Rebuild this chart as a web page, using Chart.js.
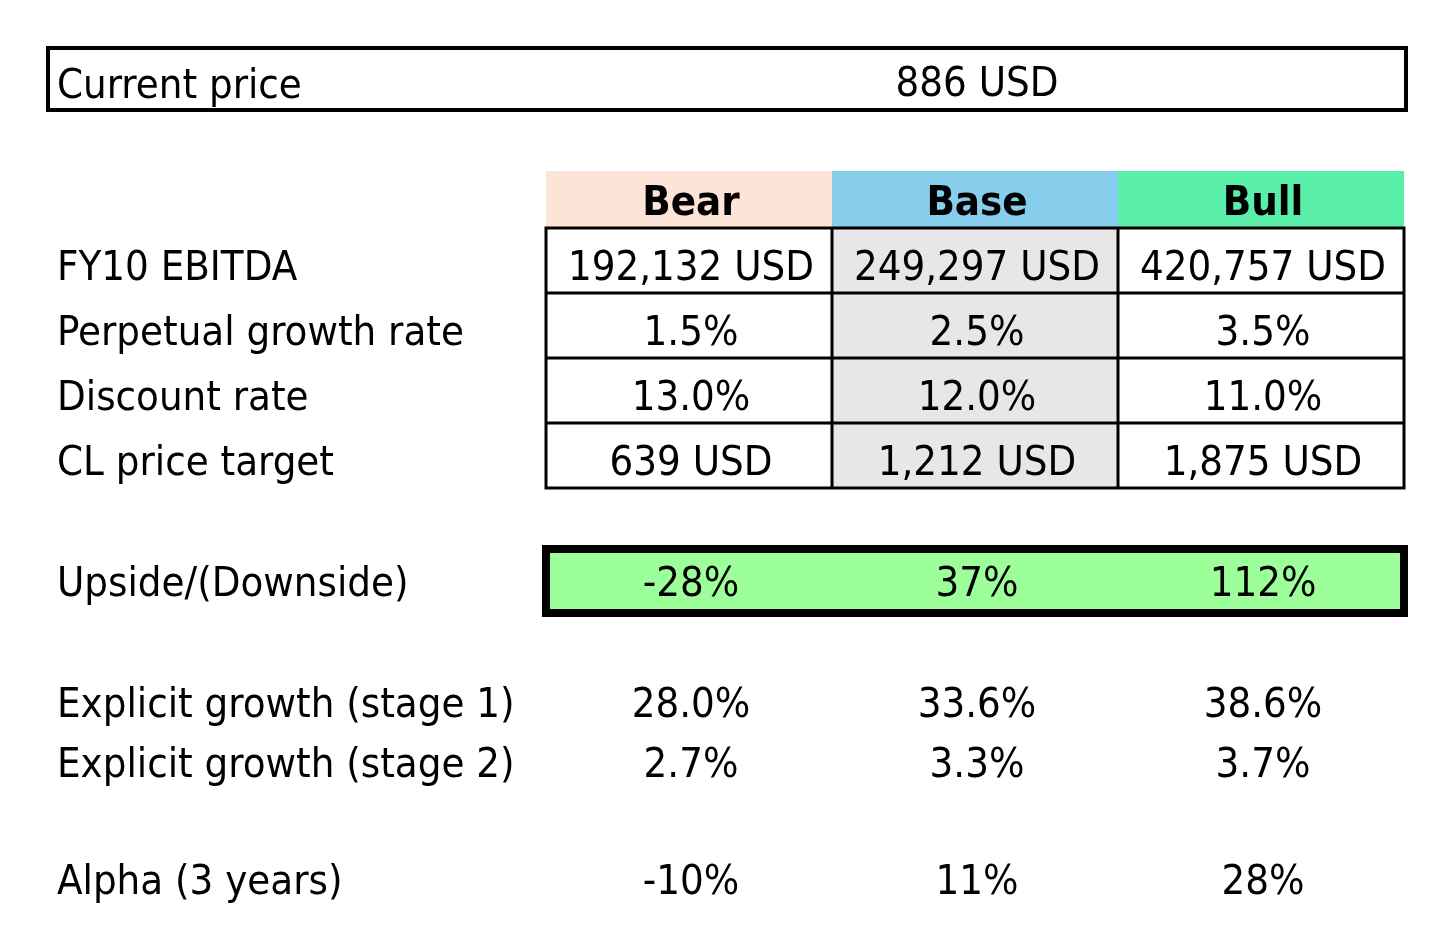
<!DOCTYPE html>
<html>
<head>
<meta charset="utf-8">
<script src="https://cdn.jsdelivr.net/npm/chart.js@4.4.1/dist/chart.umd.min.js"></script>
<style>
  html, body { margin: 0; padding: 0; background: #fff; }
  #wrap { width: 1456px; height: 952px; position: relative; }
</style>
</head>
<body>
<div id="wrap"><canvas id="valuation"></canvas></div>
<script>
// --- data ---
const scenarios = ['Bear', 'Base', 'Bull'];
const currentPrice = 886;
const ebitda = [192132, 249297, 420757];
const perpetualGrowth = [1.5, 2.5, 3.5];
const discountRate = [13.0, 12.0, 11.0];
const priceTarget = [639, 1212, 1875];
const upside = [-28, 37, 112];
const stage1Growth = [28.0, 33.6, 38.6];
const stage2Growth = [2.7, 3.3, 3.7];
const alpha3y = [-10, 11, 28];

const usd = v => v.toLocaleString('en-US') + ' USD';
const pct1 = v => v.toFixed(1) + '%';
const pct0 = v => v.toFixed(0) + '%';

// --- layout (row tracks, top to bottom, in y-axis units) ---
const tracks = [46, 66, 59, 57, 65, 65, 65, 65, 57, 72, 56, 60, 59, 58, 60, 42];
const cum = [0];
tracks.forEach(t => cum.push(cum[cum.length - 1] + t));
const mid = i => (cum[i] + cum[i + 1]) / 2;

const rows = [
  { label: 'FY10 EBITDA',              values: ebitda,          fmt: usd,  track: 4,  kind: 'grid' },
  { label: 'Perpetual growth rate',    values: perpetualGrowth, fmt: pct1, track: 5,  kind: 'grid' },
  { label: 'Discount rate',            values: discountRate,    fmt: pct1, track: 6,  kind: 'grid' },
  { label: 'CL price target',          values: priceTarget,     fmt: usd,  track: 7,  kind: 'grid' },
  { label: 'Upside/(Downside)',        values: upside,          fmt: pct0, track: 9,  kind: 'box' },
  { label: 'Explicit growth (stage 1)', values: stage1Growth,   fmt: pct1, track: 11, kind: 'plain' },
  { label: 'Explicit growth (stage 2)', values: stage2Growth,   fmt: pct1, track: 12, kind: 'plain' },
  { label: 'Alpha (3 years)',          values: alpha3y,         fmt: pct0, track: 14, kind: 'plain' }
];

const headerColors = ['#FCE4D6', '#87CDEC', '#5AEFA9'];
const baseGrey = '#E7E7E7';
const upsideGreen = '#9CFF99';
const FONT = '"DejaVu Sans Condensed", "DejaVu Sans", sans-serif';
const SIZE = 41.5;
const TX = 2; // small rightward nudge of centred text

const tablePlugin = {
  id: 'tablePlugin',
  afterDatasetsDraw(chart) {
    const ctx = chart.ctx;
    const x = chart.scales.x, y = chart.scales.y;
    const colW = x.width / scenarios.length;
    const colL = i => x.getPixelForValue(i) - colW / 2;
    const left = colL(0), right = colL(scenarios.length);
    const labelX = left - 489;
    const top = i => y.getPixelForValue(cum[i]);
    const cap = SIZE * 0.73;

    ctx.save();
    ctx.textBaseline = 'alphabetic';
    ctx.fillStyle = '#000';

    // current price box
    ctx.lineWidth = 4;
    ctx.strokeStyle = '#000';
    ctx.strokeRect(left - 498, top(1) + 2, right - left + 500, top(2) - top(1) - 4);
    ctx.font = SIZE + 'px ' + FONT;
    ctx.textAlign = 'left';
    const pY = y.getPixelForValue(mid(1)) + cap / 2 + 4;
    ctx.fillText('Current price', labelX, pY);
    ctx.textAlign = 'center';
    ctx.fillText(usd(currentPrice), x.getPixelForValue(1) + TX, pY - 2);

    // header
    scenarios.forEach((s, i) => {
      ctx.fillStyle = headerColors[i];
      ctx.fillRect(colL(i), top(3), colW, top(4) - top(3));
      ctx.fillStyle = '#000';
      ctx.font = 'bold ' + SIZE + 'px ' + FONT;
      ctx.textAlign = 'center';
      ctx.fillText(s, x.getPixelForValue(i) + TX, y.getPixelForValue(mid(3)) + cap / 2);
    });

    // grid backgrounds
    ctx.fillStyle = baseGrey;
    ctx.fillRect(colL(1), top(4), colW, top(8) - top(4));

    // upside box
    ctx.fillStyle = upsideGreen;
    ctx.fillRect(left, top(9) + 4, right - left, top(10) - top(9) - 8);
    ctx.lineWidth = 8;
    ctx.strokeRect(left, top(9) + 4, right - left, top(10) - top(9) - 8);

    // grid lines
    ctx.lineWidth = 3;
    ctx.strokeStyle = '#000';
    ctx.beginPath();
    for (let r = 4; r <= 8; r++) {
      ctx.moveTo(left - 1.5, top(r));
      ctx.lineTo(right + 1.5, top(r));
    }
    for (let c = 0; c <= scenarios.length; c++) {
      ctx.moveTo(colL(c), top(4));
      ctx.lineTo(colL(c), top(8));
    }
    ctx.stroke();

    // row texts from dataset points
    ctx.font = SIZE + 'px ' + FONT;
    ctx.fillStyle = '#000';
    chart.data.datasets.forEach((ds, di) => {
      const row = rows[di];
      const meta = chart.getDatasetMeta(di);
      const dy = row.kind === 'box' ? 0 : row.kind === 'plain' ? -1 : 4;
      ctx.textAlign = 'left';
      ctx.fillText(row.label, labelX, meta.data[0].y + cap / 2 + dy);
      ctx.textAlign = 'center';
      meta.data.forEach((pt, i) => {
        ctx.fillText(row.fmt(row.values[i]), pt.x + TX, pt.y + cap / 2 + dy);
      });
    });
    ctx.restore();
  }
};

new Chart(document.getElementById('valuation'), {
  type: 'line',
  data: {
    labels: scenarios,
    datasets: rows.map(r => ({
      label: r.label,
      data: r.values.map((v, i) => ({ x: scenarios[i], y: mid(r.track) })),
      showLine: false,
      pointRadius: 0
    }))
  },
  options: {
    responsive: true,
    maintainAspectRatio: false,
    animation: false,
    layout: { padding: { left: 546, right: 52, top: 0, bottom: 0 } },
    plugins: { legend: { display: false }, tooltip: { enabled: false } },
    scales: {
      x: { type: 'category', offset: true, display: false },
      y: { type: 'linear', reverse: true, min: 0, max: cum[cum.length - 1], display: false }
    }
  },
  plugins: [tablePlugin]
});
</script>
</body>
</html>
